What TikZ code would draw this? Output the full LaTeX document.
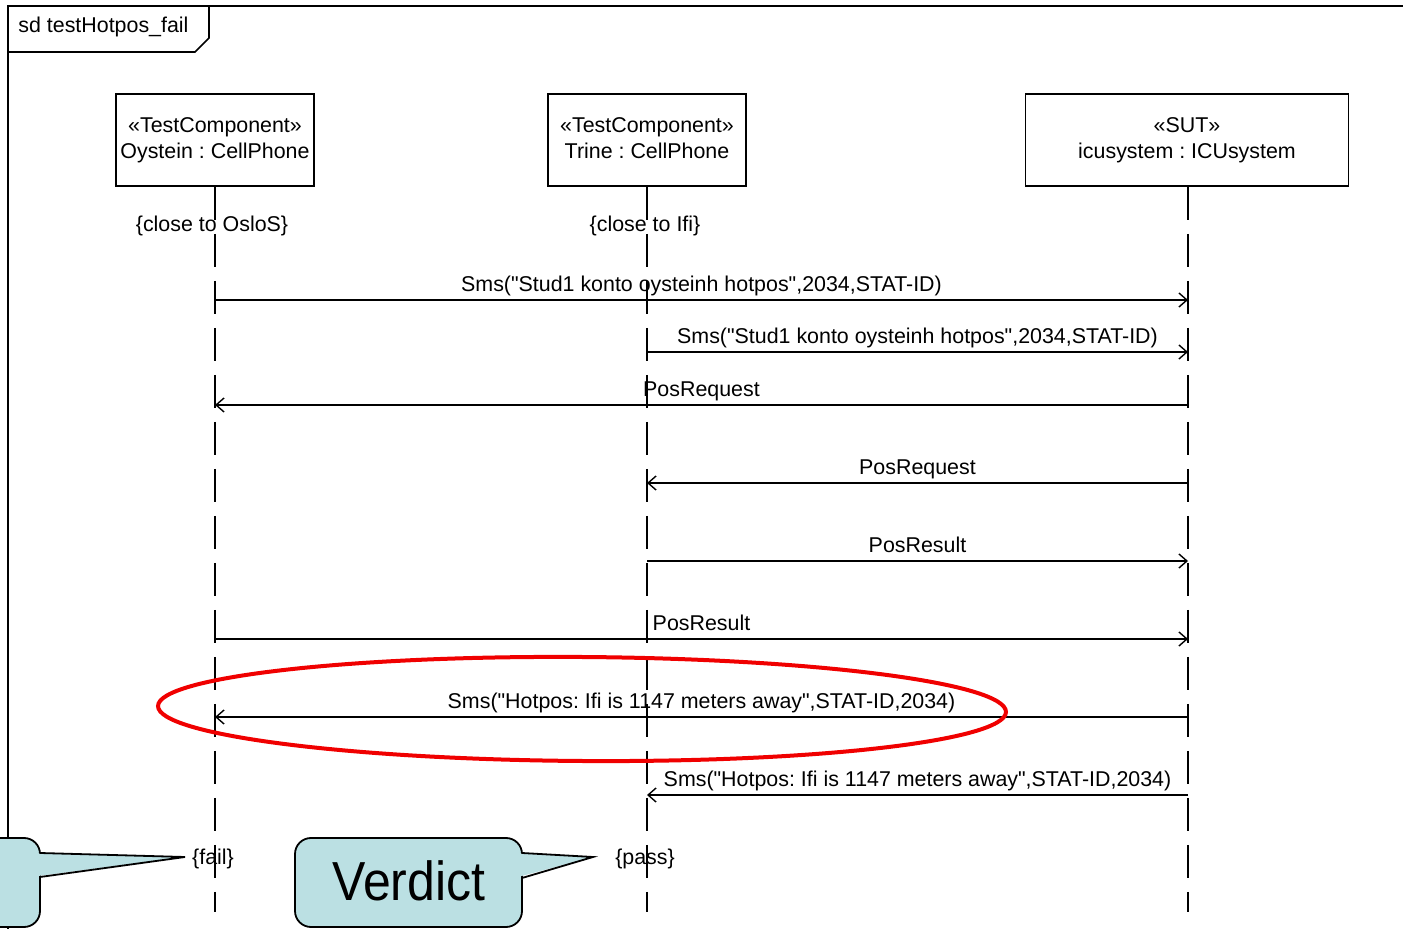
\documentclass[tikz,border=0pt]{standalone}
\usepackage{fontspec}
\setmainfont{Liberation Sans}[Ligatures=TeXOff]
\usetikzlibrary{arrows.meta}
\definecolor{callfill}{RGB}{187,224,227}
\definecolor{ellred}{RGB}{240,0,0}
\begin{document}
\frenchspacing
\begin{tikzpicture}[x=0.5pt,y=-0.5pt,
  every node/.style={font=\fontsize{10.7}{13}\selectfont, inner sep=0pt},
  head/.style={draw, line width=0.8pt, minimum height=46pt, align=center},
  life/.style={line width=0.7pt, dash pattern=on 16.5pt off 7pt},
  msg/.style={line width=0.7pt, -{Straight Barb[length=4pt,width=7pt,line width=0.7pt]}},
  lbl/.style={midway, anchor=base, yshift=4pt},
  callout/.style={fill=callfill, draw, line width=0.9pt},
  frame/.style={line width=0.8pt},
]
\useasboundingbox (0,0) rectangle (1403,929);
\clip (0,0) rectangle (1403,929);

% frame
\draw[frame] (8,940) -- (8,6) -- (1410,6);
\draw[frame] (8,52) -- (195,52) -- (209,38) -- (209,6);
\node[anchor=west] (title) at (18,27) {sd testHotpos\_fail};

% heads
\node[head, minimum width=99pt] (o) at (215,140) {\strut«TestComponent»\\\strut Oystein : CellPhone};
\node[head, minimum width=99pt] (t) at (647,140) {\strut«TestComponent»\\\strut Trine : CellPhone};
\node[head, minimum width=161.5pt] (s) at (1187,140) {\strut«SUT»\\\strut icusystem : ICUsystem};

% lifeline ends
\coordinate (oe) at (215,912);
\coordinate (te) at (647,912);
\coordinate (se) at (1188,912);
\draw[life] (o.south) -- (oe);
\draw[life] (t.south) -- (te);
\draw[life] (s.south -| se) -- (se);

% constraints
\node (c1) at (212,226) {\{close to OsloS\}};
\node (c2) at (645,226) {\{close to Ifi\}};
\node (v1) at (213,859) {\{fail\}};
\node (v2) at (645,859) {\{pass\}};

% message levels
\coordinate (y1) at (0,300);
\coordinate (y2) at (0,352);
\coordinate (y3) at (0,405);
\coordinate (y4) at (0,483);
\coordinate (y5) at (0,561);
\coordinate (y6) at (0,639);
\coordinate (y7) at (0,717);
\coordinate (y8) at (0,795);

\draw[msg] (oe |- y1) -- node[lbl] {Sms("Stud1 konto oysteinh hotpos",2034,STAT-ID)} (se |- y1);
\draw[msg] (te |- y2) -- node[lbl] {Sms("Stud1 konto oysteinh hotpos",2034,STAT-ID)} (se |- y2);
\draw[msg] (se |- y3) -- node[lbl] {PosRequest} (oe |- y3);
\draw[msg] (se |- y4) -- node[lbl] {PosRequest} (te |- y4);
\draw[msg] (te |- y5) -- node[lbl] {PosResult} (se |- y5);
\draw[msg] (oe |- y6) -- node[lbl] {PosResult} (se |- y6);
\draw[msg] (se |- y7) -- node[lbl] {Sms("Hotpos: Ifi is 1147 meters away",STAT-ID,2034)} (oe |- y7);
\draw[msg] (se |- y8) -- node[lbl] {Sms("Hotpos: Ifi is 1147 meters away",STAT-ID,2034)} (te |- y8);

% red highlight
\draw[ellred, line width=2pt, rotate around={-0.4:(582,709)}] (582,709) ellipse [x radius=424, y radius=52];

% left callout
\coordinate (p1) at (185,857);
\draw[callout, rounded corners=8pt] (-40,838) rectangle (40,927);
\fill[callfill] (34,853.5) -- (p1) -- (34,876.5) -- cycle;
\draw[line width=0.9pt] (40,853) -- (p1) -- (40,877);

% verdict callout
\coordinate (p2) at (593,857);
\draw[callout, rounded corners=8pt] (295,838) rectangle (522,927);
\fill[callfill] (516,853.5) -- (p2) -- (516,877.5) -- cycle;
\draw[line width=0.9pt] (522,853) -- (p2) -- (522,878);
\node[font=\fontsize{25}{30}\selectfont, yscale=1.1, transform shape] (verdict) at (409,881) {Verdict};
\end{tikzpicture}
\end{document}
